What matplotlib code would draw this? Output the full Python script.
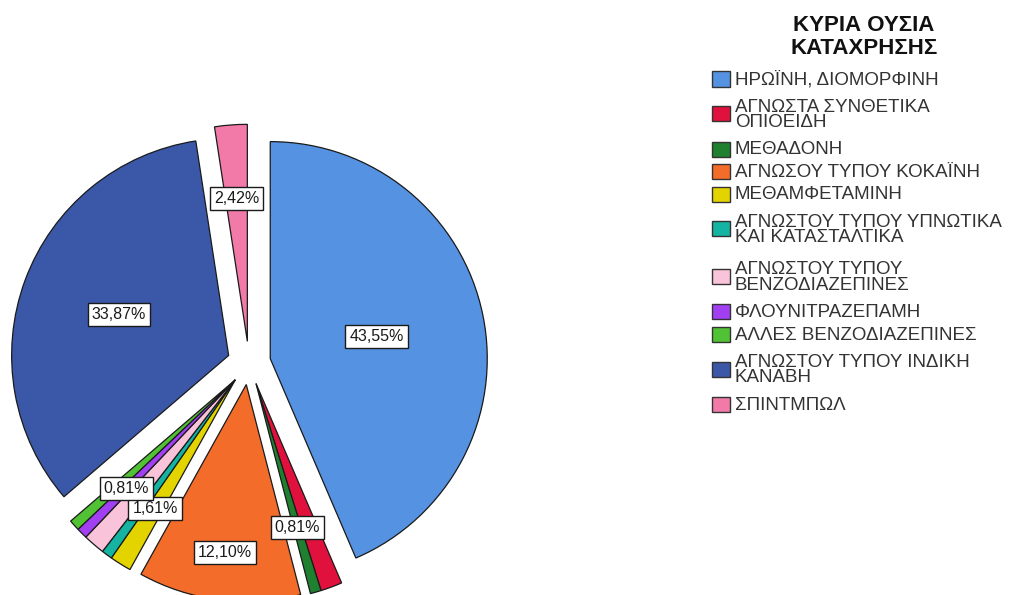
import numpy as np
import matplotlib
matplotlib.use('Agg')
import matplotlib.pyplot as plt
from matplotlib.patches import Rectangle

plt.rcParams['font.family'] = ['Liberation Sans', 'DejaVu Sans']

# Data
categories = ['ΗΡΩΪΝΗ, ΔΙΟΜΟΡΦΙΝΗ',
              'ΑΓΝΩΣΤΑ ΣΥΝΘΕΤΙΚΑ\nΟΠΙΟΕΙΔΗ',
              'ΜΕΘΑΔΟΝΗ',
              'ΑΓΝΩΣΟΥ ΤΥΠΟΥ ΚΟΚΑΪΝΗ',
              'ΜΕΘΑΜΦΕΤΑΜΙΝΗ',
              'ΑΓΝΩΣΤΟΥ ΤΥΠΟΥ ΥΠΝΩΤΙΚΑ\nΚΑΙ ΚΑΤΑΣΤΑΛΤΙΚΑ',
              'ΑΓΝΩΣΤΟΥ ΤΥΠΟΥ\nΒΕΝΖΟΔΙΑΖΕΠΙΝΕΣ',
              'ΦΛΟΥΝΙΤΡΑΖΕΠΑΜΗ',
              'ΑΛΛΕΣ ΒΕΝΖΟΔΙΑΖΕΠΙΝΕΣ',
              'ΑΓΝΩΣΤΟΥ ΤΥΠΟΥ ΙΝΔΙΚΗ\nΚΑΝΑΒΗ',
              'ΣΠΙΝΤΜΠΩΛ']
percents = [43.55, 1.61, 0.81, 12.10, 1.61, 0.81, 1.61, 0.81, 0.81, 33.87, 2.42]
colors = ['#5592e2', '#e0113d', '#1f8030', '#f36c2a', '#e3d400', '#14b3a2',
          '#f9c3da', '#a23ff2', '#52c235', '#3b57a8', '#f27aa8']
legend_title = 'ΚΥΡΙΑ ΟΥΣΙΑ\nΚΑΤΑΧΡΗΣΗΣ'
# which slices show a value label
show_label = [True, False, True, True, True, False, False, True, False, True, True]
# slices that are pulled out together
groups = [0, 1, 1, 2, 3, 3, 3, 3, 3, 4, 5]

explode_dist = 0.1
label_r = [0.5, 0.6, 0.69, 0.78, 0.7, 0.6, 0.6, 0.71, 0.6, 0.54, 0.66]

W, H = 1011, 595
fig = plt.figure(figsize=(W / 100, H / 100), dpi=100)
ax = fig.add_axes([0, 0, 1, 1])

wedges, _ = ax.pie(percents, colors=colors, startangle=90, counterclock=False,
                   radius=1, wedgeprops=dict(edgecolor='#1a1a1a', linewidth=0.9))

vals = np.array(percents)
cum = np.concatenate([[0], np.cumsum(vals)]) / vals.sum() * 360
group_ids = np.array(groups)
for i, w in enumerate(wedges):
    members = np.where(group_ids == groups[i])[0]
    g_mid = (cum[members[0]] + cum[members[-1] + 1]) / 2
    gx = explode_dist * np.sin(np.radians(g_mid))
    gy = explode_dist * np.cos(np.radians(g_mid))
    w.set_center((gx, gy))
    if show_label[i]:
        mid = (cum[i] + cum[i + 1]) / 2
        lx = gx + label_r[i] * np.sin(np.radians(mid))
        ly = gy + label_r[i] * np.cos(np.radians(mid))
        txt = f'{percents[i]:.2f}%'.replace('.', ',')
        ax.text(lx, ly, txt, ha='center', va='center', fontsize=11.5, color='#1a1a1a',
                bbox=dict(boxstyle='square,pad=0.25', facecolor='white',
                          edgecolor='#1a1a1a', linewidth=1))

# pixel layout: pie centre and radius in px
cx, cy, R = 249, 363, 217
ax.set_xlim(-cx / R, (W - cx) / R)
ax.set_ylim(-(H - cy) / R, cy / R)
ax.set_aspect('equal')
ax.axis('off')

# legend (drawn by hand to copy the SPSS spacing)
fig.text(864 / W, 1 - 15 / H, legend_title, ha='center', va='top', fontsize=16,
         fontweight='bold', color='#111111', linespacing=1.12)

h_single, h_extra = 22.5, 25.0
y = 79 - h_single / 2
for lab, col in zip(categories, colors):
    n = lab.count('\n') + 1
    h = h_single + (n - 1) * h_extra
    yc = y + h / 2
    fig.add_artist(Rectangle((712 / W, 1 - (yc + 7.5) / H), 18 / W, 15 / H,
                             transform=fig.transFigure, facecolor=col,
                             edgecolor='#333333', linewidth=1))
    fig.text(735 / W, 1 - (yc + 1) / H, lab, ha='left', va='center', fontsize=13.5,
             color='#333333', linespacing=0.9)
    y += h

fig.savefig('out.png', dpi=100)
